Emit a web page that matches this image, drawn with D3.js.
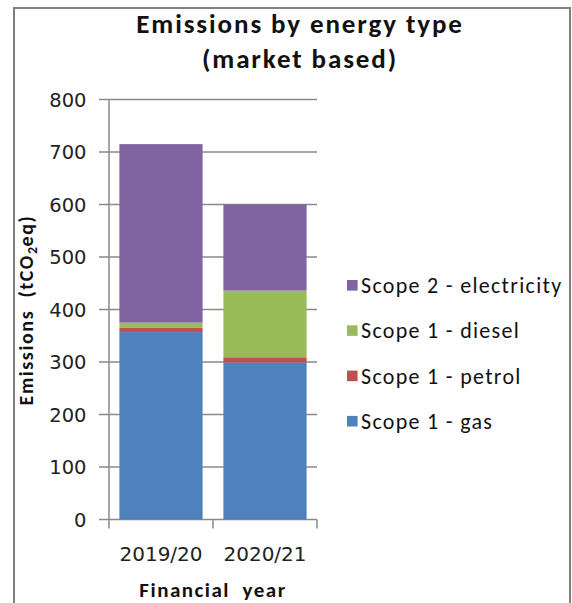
<!DOCTYPE html>
<html>
<head>
<meta charset="utf-8">
<script src="https://cdn.jsdelivr.net/npm/d3@7"></script>
<style>
  html, body { margin: 0; padding: 0; background: #fff; }
  svg { display: block; }
</style>
</head>
<body>
<svg id="chart" width="572" height="603"></svg>
<script>
const categories = ["2019/20", "2020/21"];
const seriesNames = ["Scope 1 - gas", "Scope 1 - petrol", "Scope 1 - diesel", "Scope 2 - electricity"];
const gas = [357, 299];
const petrol = [8, 10];
const diesel = [10, 127];
const electricity = [340, 164];
const yTicks = [0, 100, 200, 300, 400, 500, 600, 700, 800];
const colors = ["#4F81BD", "#C0504D", "#9BBB59", "#8064A2"];

(function () {
const seriesValues = [gas, petrol, diesel, electricity];
const table = categories.map((c, i) => {
  const row = { cat: c };
  seriesNames.forEach((s, j) => row[s] = seriesValues[j][i]);
  return row;
});

const svg = d3.select("#chart");
const pLeft = 109, pRight = 317, pTop = 99.5, pBottom = 519.5;

// frame
svg.append("path")
  .attr("d", `M14,610 L14,8 L570,8 L570,610`)
  .attr("fill", "none").attr("stroke", "#808080").attr("stroke-width", 2);

const x = d3.scaleBand().domain(categories).range([pLeft, pRight]).paddingInner(0.2).paddingOuter(0.1);
const y = d3.scaleLinear().domain([0, 800]).range([pBottom, pTop]);

const gridColor = "#8a8a8a";

// gridlines (with left tick extension)
svg.append("g").selectAll("line").data(yTicks).join("line")
  .attr("x1", pLeft - 10).attr("x2", pRight)
  .attr("y1", d => y(d)).attr("y2", d => y(d))
  .attr("stroke", gridColor).attr("stroke-width", 1.5);

// bars
const stack = d3.stack().keys(seriesNames)(table);
svg.append("g").selectAll("g").data(stack).join("g")
  .attr("fill", (d, i) => colors[i])
  .selectAll("rect").data(d => d).join("rect")
  .attr("x", d => x(d.data.cat))
  .attr("width", x.bandwidth())
  .attr("y", d => y(d[1]))
  .attr("height", d => y(d[0]) - y(d[1]));

// y axis line
svg.append("line").attr("x1", pLeft).attr("x2", pLeft).attr("y1", pTop).attr("y2", pBottom)
  .attr("stroke", gridColor).attr("stroke-width", 1.5);

// x axis ticks at band boundaries
const step = x.step();
const bounds = d3.range(categories.length + 1).map(i => x.range()[0] + i * step);
svg.append("g").selectAll("line").data(bounds).join("line")
  .attr("x1", d => d).attr("x2", d => d)
  .attr("y1", pBottom).attr("y2", pBottom + 9)
  .attr("stroke", gridColor).attr("stroke-width", 1.5);

// y tick labels
svg.append("g").selectAll("text").data(yTicks).join("text")
  .attr("x", 86.5).attr("y", d => y(d)).attr("dy", "0.36em")
  .attr("text-anchor", "end")
  .attr("font-family", "DejaVu Sans, Verdana, sans-serif")
  .attr("font-size", 19.5).attr("fill", "#222")
  .text(d => d);

// x tick labels
svg.append("g").selectAll("text").data(categories).join("text")
  .attr("x", d => x(d) + x.bandwidth() / 2).attr("y", 560.5)
  .attr("text-anchor", "middle")
  .attr("font-family", "DejaVu Sans, Verdana, sans-serif")
  .attr("font-size", 20).attr("fill", "#222")
  .text(d => d);

const lato = "Carlito, Lato, sans-serif";

// title
const title = svg.append("text").attr("text-anchor", "middle")
  .attr("font-family", lato).attr("font-weight", "bold")
  .attr("font-size", 27).attr("letter-spacing", 1.9).attr("fill", "#111");
title.append("tspan").attr("x", 300).attr("y", 33).text("Emissions by energy type");
title.append("tspan").attr("x", 300).attr("y", 68).text("(market based)");

// y axis title
const yt = svg.append("text").attr("text-anchor", "middle")
  .attr("transform", "translate(33,310) rotate(-90)")
  .attr("font-family", lato).attr("font-weight", "bold")
  .attr("font-size", 20).attr("letter-spacing", 1.6).attr("fill", "#111")
  .attr("xml:space", "preserve");
yt.append("tspan").text("Emissions  (tCO");
yt.append("tspan").attr("font-size", 14).attr("dy", 4).attr("letter-spacing", 0.5).text("2");
yt.append("tspan").attr("dy", -4).text("eq)");

// x axis title
svg.append("text").attr("text-anchor", "middle")
  .attr("x", 213).attr("y", 597)
  .attr("font-family", lato).attr("font-weight", "bold")
  .attr("font-size", 21).attr("letter-spacing", 1.5).attr("fill", "#111")
  .attr("xml:space", "preserve")
  .text("Financial  year");

// legend (reverse order, top = electricity)
const legendOrder = seriesNames.map((s, i) => ({ name: s, color: colors[i] })).reverse();
const lg = svg.append("g").selectAll("g").data(legendOrder).join("g")
  .attr("transform", (d, i) => `translate(347,${285.3 + i * 45.3})`);
lg.append("rect").attr("x", 0).attr("y", -5.3).attr("width", 10.6).attr("height", 10.6)
  .attr("fill", d => d.color);
lg.append("text").attr("x", 14).attr("y", 7.8)
  .attr("font-family", lato)
  .attr("font-size", 22).attr("letter-spacing", 1.3).attr("fill", "#111")
  .text(d => d.name);
})();
</script>
</body>
</html>
